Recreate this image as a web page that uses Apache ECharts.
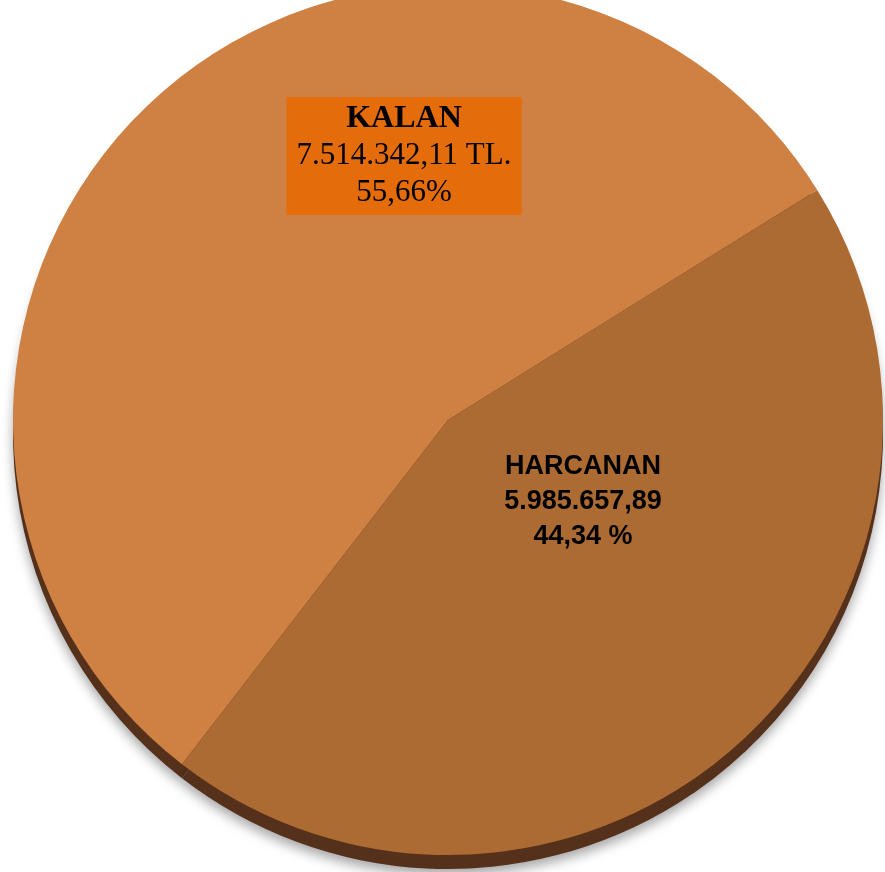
<!DOCTYPE html>
<html>
<head>
<meta charset="utf-8">
<script src="https://cdn.jsdelivr.net/npm/echarts@6/dist/echarts.min.js"></script>
<style>
  html, body { margin: 0; padding: 0; background: #fff; }
  #pieChart { width: 885px; height: 872px; }
</style>
</head>
<body>
<div id="pieChart"></div>
<script>
const butceList = [
  { name: 'KALAN', value: 7514342.11 },
  { name: 'HARCANAN', value: 5985657.89 }
]

// turkish style number: 7.514.342,11
function trSayi(n) {
  let parts = n.toFixed(2).split('.')
  parts[0] = parts[0].replace(/\B(?=(\d{3})+(?!\d))/g, '.')
  return parts.join(',')
}

const center = [448, 420]
const radius = 435
const startAngle = 232.3

const chart = echarts.init(document.getElementById('pieChart'))

let option = {
  animation: false,
  series: [
    {
      // dark rim under the top face
      type: 'pie',
      silent: true,
      z: 1,
      center: [center[0], center[1] + 14],
      radius: radius,
      startAngle: startAngle,
      label: { show: false },
      labelLine: { show: false },
      itemStyle: {
        color: '#55301a',
        shadowBlur: 12,
        shadowOffsetY: 6,
        shadowColor: 'rgba(0,0,0,0.35)'
      },
      data: butceList
    },
    {
      type: 'pie',
      z: 2,
      center: center,
      radius: radius,
      startAngle: startAngle,
      labelLine: { show: false },
      data: [
        {
          ...butceList[0],
          itemStyle: { color: '#ce8142' },
          label: {
            show: true,
            position: 'inside',
            formatter: p => '{b|' + p.name + '}\n{v|' + trSayi(p.value) + ' TL.}\n{v|' + p.percent.toFixed(2).replace('.', ',') + '%}',
            backgroundColor: '#e46c0a',
            padding: [3, 10, 4, 10],
            align: 'center',
            rich: {
              b: { fontFamily: 'Liberation Serif', fontWeight: 'bold', fontSize: 32, lineHeight: 37, color: '#000' },
              v: { fontFamily: 'Liberation Serif', fontSize: 31, lineHeight: 37, color: '#000' }
            }
          }
        },
        {
          ...butceList[1],
          itemStyle: { color: '#ad6b34' },
          label: {
            show: true,
            position: 'inside',
            formatter: p => p.name + '\n' + trSayi(p.value) + '\n' + p.percent.toFixed(2).replace('.', ',') + ' %',
            fontFamily: 'Liberation Sans',
            fontWeight: 'bold',
            fontSize: 27,
            lineHeight: 35,
            color: '#000',
            align: 'center'
          }
        }
      ]
    }
  ]
}

option.series[1].labelLayout = function (params) {
  if (params.dataIndex === 0) {
    return { x: 404, y: 156, align: 'center', verticalAlign: 'middle' }
  }
  return { x: 583, y: 502, align: 'center', verticalAlign: 'middle' }
}

chart.setOption(option)
</script>
</body>
</html>
